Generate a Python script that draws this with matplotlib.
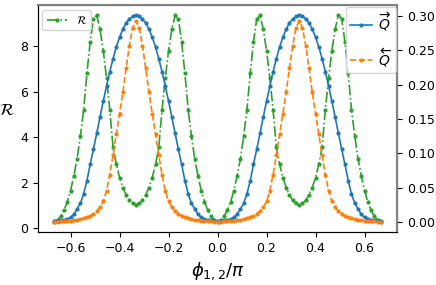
import numpy as np
import matplotlib.pyplot as plt

# phase grid, -2/3 .. 2/3
phi = np.linspace(-2 / 3, 2 / 3, 101)

# values
R = [0.28, 0.36, 0.52, 0.78, 1.15, 1.65, 2.3, 3.05, 4.05, 5.2, 6.8, 8.2, 9.2, 9.35, 8.75, 7.8, 6.6, 5.2, 3.55, 2.8, 2.22, 1.78, 1.45, 1.22, 1.08,
     1.02,
     1.08, 1.22, 1.45, 1.78, 2.22, 2.8, 3.55, 5.2, 6.6, 7.8, 8.75, 9.35, 9.2, 8.2, 6.8, 5.2, 4.05, 3.05, 2.3, 1.65, 1.15, 0.78, 0.52, 0.36,
     0.28,
     0.36, 0.52, 0.78, 1.15, 1.65, 2.3, 3.05, 4.05, 5.2, 6.8, 8.2, 9.2, 9.35, 8.75, 7.8, 6.6, 5.2, 3.55, 2.8, 2.22, 1.78, 1.45, 1.22, 1.08,
     1.02,
     1.08, 1.22, 1.45, 1.78, 2.22, 2.8, 3.55, 5.2, 6.6, 7.8, 8.75, 9.35, 9.2, 8.2, 6.8, 5.2, 4.05, 3.05, 2.3, 1.65, 1.15, 0.78, 0.52, 0.36,
     0.28]

Q_fwd = [0.002, 0.002, 0.0022, 0.0028, 0.004, 0.0065, 0.011, 0.019, 0.027, 0.041, 0.060, 0.084, 0.106, 0.129, 0.153, 0.176, 0.198, 0.219, 0.238, 0.255, 0.269, 0.281, 0.290, 0.296, 0.2995,
         0.301,
         0.2995, 0.296, 0.290, 0.281, 0.269, 0.255, 0.238, 0.219, 0.198, 0.176, 0.153, 0.129, 0.106, 0.084, 0.060, 0.041, 0.027, 0.019, 0.011, 0.0065, 0.004, 0.0028, 0.0022, 0.002,
         0.002,
         0.002, 0.0022, 0.0028, 0.004, 0.0065, 0.011, 0.019, 0.027, 0.041, 0.060, 0.084, 0.106, 0.129, 0.153, 0.176, 0.198, 0.219, 0.238, 0.255, 0.269, 0.281, 0.290, 0.296, 0.2995,
         0.301,
         0.2995, 0.296, 0.290, 0.281, 0.269, 0.255, 0.238, 0.219, 0.198, 0.176, 0.153, 0.129, 0.106, 0.084, 0.060, 0.041, 0.027, 0.019, 0.011, 0.0065, 0.004, 0.0028, 0.0022, 0.002,
         0.002]

Q_bwd = [0.0003, 0.0004, 0.0006, 0.0009, 0.0013, 0.0018, 0.0024, 0.0031, 0.004, 0.0052, 0.007, 0.009, 0.012, 0.016, 0.021, 0.030, 0.045, 0.069, 0.097, 0.128, 0.158, 0.189, 0.224, 0.257, 0.283,
         0.293,
         0.283, 0.257, 0.224, 0.189, 0.158, 0.128, 0.097, 0.069, 0.045, 0.030, 0.021, 0.016, 0.012, 0.009, 0.007, 0.0052, 0.004, 0.0031, 0.0024, 0.0018, 0.0013, 0.0009, 0.0006, 0.0004,
         0.0003,
         0.0004, 0.0006, 0.0009, 0.0013, 0.0018, 0.0024, 0.0031, 0.004, 0.0052, 0.007, 0.009, 0.012, 0.016, 0.021, 0.030, 0.045, 0.069, 0.097, 0.128, 0.158, 0.189, 0.224, 0.257, 0.283,
         0.293,
         0.283, 0.257, 0.224, 0.189, 0.158, 0.128, 0.097, 0.069, 0.045, 0.030, 0.021, 0.016, 0.012, 0.009, 0.007, 0.0052, 0.004, 0.0031, 0.0024, 0.0018, 0.0013, 0.0009, 0.0006, 0.0004,
         0.0003]

fig = plt.figure(figsize=(4.36, 2.85), dpi=100)
ax = fig.add_axes([0.087, 0.186, 0.824, 0.796])
ax2 = ax.twinx()

ax.plot(phi, R, '-.', color='C2', marker='o', ms=2, lw=1.2, label=r'$\mathcal{R}$')
ax2.plot(phi, Q_fwd, '-', color='C0', marker='o', ms=2, lw=1.2, label=r'$\overrightarrow{Q}$')
ax2.plot(phi, Q_bwd, '--', color='C1', marker='o', ms=2, lw=1.2, label=r'$\overleftarrow{Q}$')

ax.set_xticks([-0.6, -0.4, -0.2, 0.0, 0.2, 0.4, 0.6])
ax.set_yticks([0, 2, 4, 6, 8])
ax2.set_yticks([0.0, 0.05, 0.10, 0.15, 0.20, 0.25, 0.30])
ax2.set_yticklabels(['0.00', '0.05', '0.10', '0.15', '0.20', '0.25', '0.30'])
ax.tick_params(labelsize=9)
ax2.tick_params(labelsize=9)

ax.set_xlabel(r'$\phi_{1,2}/\pi$', fontsize=13)
ax.set_ylabel(r'$\mathcal{R}$', fontsize=12, rotation=0, labelpad=10)

for side in ['top', 'right']:
    ax2.spines[side].set_color('gray')
    ax2.spines[side].set_linewidth(1.5)

ax.legend(loc='upper left', fontsize=8, handlelength=1.8, borderaxespad=0.4)
ax2.legend(loc='upper right', fontsize=10, handlelength=1.6, handletextpad=0.4,
           labelspacing=0.9, borderpad=0.3, borderaxespad=0.1)

fig.savefig('out.png', dpi=100)
